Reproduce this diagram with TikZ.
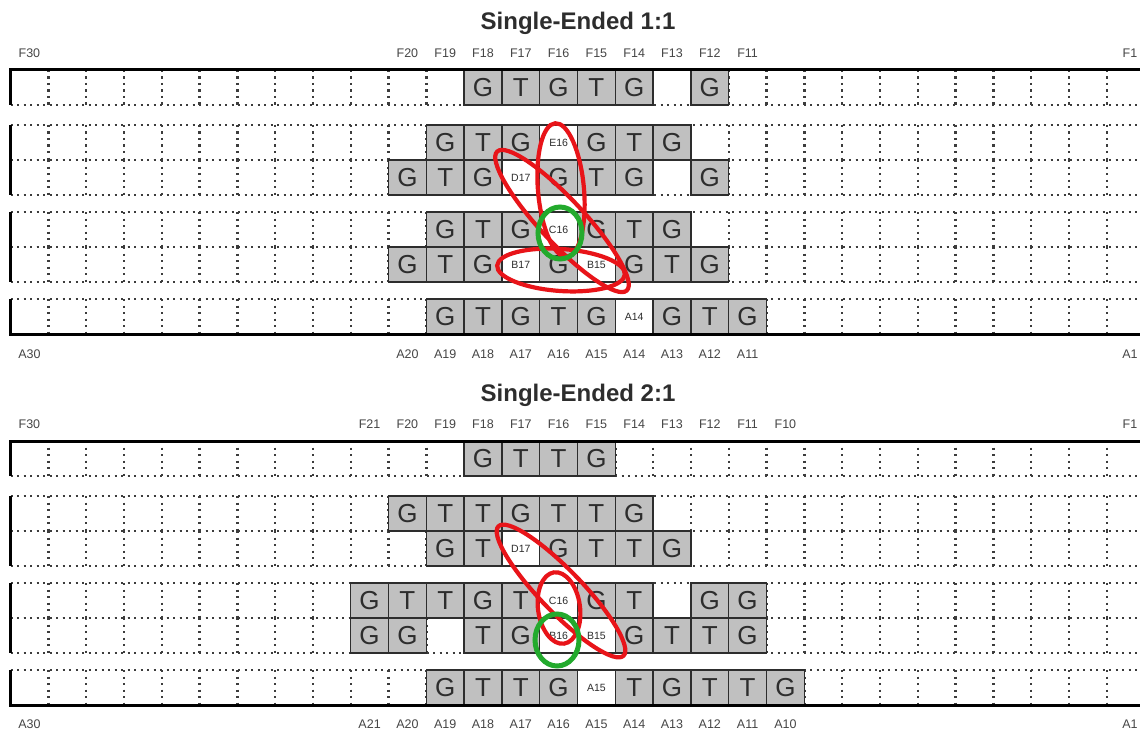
\documentclass[tikz,border=0pt]{standalone}
\usepackage{fontspec}
\setmainfont{Liberation Sans}
\definecolor{cellgray}{RGB}{192,192,192}
\definecolor{ink}{RGB}{45,45,45}
\definecolor{dotcol}{RGB}{60,60,60}
\definecolor{labcol}{RGB}{70,70,70}
\definecolor{ered}{RGB}{232,20,25}
\definecolor{egreen}{RGB}{35,170,45}
\tikzset{
 gcell/.style={draw=ink, line width=1.4pt, fill=cellgray, minimum width=37.8pt, minimum height=35pt, inner sep=0pt, text=ink, font=\fontsize{26}{26}\selectfont},
 wcell/.style={draw=ink, line width=1.4pt, fill=white, minimum width=37.8pt, minimum height=35pt, inner sep=0pt, text=ink, font=\fontsize{10.5}{11}\selectfont},
 dotline/.style={draw=dotcol, line width=2.4pt, dash pattern=on 2.2pt off 4.3pt},
 thickline/.style={draw=black, line width=3pt},
 poslabel/.style={text=labcol, font=\fontsize{12.5}{12.5}\selectfont, inner sep=0pt},
 titlelab/.style={font=\bfseries\fontsize{24}{24}\selectfont, text=ink, inner sep=0pt, anchor=base},
 redring/.style={draw=ered, line width=4.2pt},
 greenring/.style={draw=egreen, line width=5pt},
}
\begin{document}
\begin{tikzpicture}[x=1pt,y=-1pt]
\useasboundingbox (0,0) rectangle (1140,733);
\fill[white] (0,0) rectangle (1140,733);

% dotted grids (both panels)
\foreach \ya/\yb in {70/105,125/160,160/195,212/247,247/282,299/334,441/476,496/531,531/566,583/618,618/653,670/705}{
  \draw[dotline] (10.5,\ya) -- (1140,\ya);
  \draw[dotline] (10.5,\yb) -- (1140,\yb);
  \foreach \j in {1,...,29}{
    \draw[dotline] ({10.5+37.8*\j},\ya) -- ({10.5+37.8*\j},\yb);
  }
}

% ---------------- top panel: Single-Ended 1:1 ----------------
\node[titlelab] (t1) at (578,30) {Single-Ended 1:1};
\node[poslabel] (tf30) at (29.4,53) {F30};
\foreach \k in {20,...,11}{\node[poslabel] (tf\k) at ({1163.4-37.8*\k},53) {F\k};}
\node[poslabel] (tf1) at (1130,53) {F1};
\node[poslabel] (ta30) at (29.4,354) {A30};
\foreach \k in {20,...,11}{\node[poslabel] (ta\k) at ({1163.4-37.8*\k},354) {A\k};}
\node[poslabel] (ta1) at (1130,354) {A1};

\foreach \k/\t in {18/G,17/T,16/G,15/T,14/G,12/G}{\node[gcell] (tF\k) at ({1163.4-37.8*\k},87.5) {\t};}
\foreach \k/\t in {19/G,18/T,17/G,15/G,14/T,13/G}{\node[gcell] (tE\k) at ({1163.4-37.8*\k},142.5) {\t};}
\node[wcell] (tE16) at ({1163.4-37.8*16},142.5) {E16};
\foreach \k/\t in {20/G,19/T,18/G,16/G,15/T,14/G,12/G}{\node[gcell] (tD\k) at ({1163.4-37.8*\k},177.5) {\t};}
\node[wcell] (tD17) at ({1163.4-37.8*17},177.5) {D17};
\foreach \k/\t in {19/G,18/T,17/G,15/G,14/T,13/G}{\node[gcell] (tC\k) at ({1163.4-37.8*\k},229.5) {\t};}
\node[wcell] (tC16) at ({1163.4-37.8*16},229.5) {C16};
\foreach \k/\t in {20/G,19/T,18/G,16/G,14/G,13/T,12/G}{\node[gcell] (tB\k) at ({1163.4-37.8*\k},264.5) {\t};}
\node[wcell] (tB17) at ({1163.4-37.8*17},264.5) {B17};
\node[wcell] (tB15) at ({1163.4-37.8*15},264.5) {B15};
\foreach \k/\t in {19/G,18/T,17/G,16/T,15/G,13/G,12/T,11/G}{\node[gcell] (tA\k) at ({1163.4-37.8*\k},316.5) {\t};}
\node[wcell] (tA14) at ({1163.4-37.8*14},316.5) {A14};

\draw[thickline] (10.5,105) -- (10.5,70) -- (1140,70);
\draw[thickline] (10.5,125) -- (10.5,195);
\draw[thickline] (10.5,212) -- (10.5,282);
\draw[thickline] (10.5,299) -- (10.5,334) -- (1140,334);

\draw[redring, shift={(561,190)}, rotate=5] (0,0) ellipse [x radius=23, y radius=67];
\draw[redring, shift={(562,221)}, rotate=-47] (0,0) ellipse [x radius=95, y radius=22];
\draw[redring, shift={(561,270)}, rotate=-4] (0,0) ellipse [x radius=64, y radius=21];
\draw[greenring] (560,233) ellipse [x radius=22, y radius=26];

% ---------------- bottom panel: Single-Ended 2:1 ----------------
\node[titlelab] (t2) at (578,401) {Single-Ended 2:1};
\node[poslabel] (bf30) at (29.4,424) {F30};
\foreach \k in {21,...,10}{\node[poslabel] (bf\k) at ({1163.4-37.8*\k},424) {F\k};}
\node[poslabel] (bf1) at (1130,424) {F1};
\node[poslabel] (ba30) at (29.4,724) {A30};
\foreach \k in {21,...,10}{\node[poslabel] (ba\k) at ({1163.4-37.8*\k},724) {A\k};}
\node[poslabel] (ba1) at (1130,724) {A1};

\foreach \k/\t in {18/G,17/T,16/T,15/G}{\node[gcell] (bF\k) at ({1163.4-37.8*\k},458.5) {\t};}
\foreach \k/\t in {20/G,19/T,18/T,17/G,16/T,15/T,14/G}{\node[gcell] (bE\k) at ({1163.4-37.8*\k},513.5) {\t};}
\foreach \k/\t in {19/G,18/T,16/G,15/T,14/T,13/G}{\node[gcell] (bD\k) at ({1163.4-37.8*\k},548.5) {\t};}
\node[wcell] (bD17) at ({1163.4-37.8*17},548.5) {D17};
\foreach \k/\t in {21/G,20/T,19/T,18/G,17/T,15/G,14/T,12/G,11/G}{\node[gcell] (bC\k) at ({1163.4-37.8*\k},600.5) {\t};}
\node[wcell] (bC16) at ({1163.4-37.8*16},600.5) {C16};
\foreach \k/\t in {21/G,20/G,18/T,17/G,14/G,13/T,12/T,11/G}{\node[gcell] (bB\k) at ({1163.4-37.8*\k},635.5) {\t};}
\node[wcell] (bB16) at ({1163.4-37.8*16},635.5) {B16};
\node[wcell] (bB15) at ({1163.4-37.8*15},635.5) {B15};
\foreach \k/\t in {19/G,18/T,17/T,16/G,14/T,13/G,12/T,11/T,10/G}{\node[gcell] (bA\k) at ({1163.4-37.8*\k},687.5) {\t};}
\node[wcell] (bA15) at ({1163.4-37.8*15},687.5) {A15};

\draw[thickline] (10.5,476) -- (10.5,441) -- (1140,441);
\draw[thickline] (10.5,496) -- (10.5,566);
\draw[thickline] (10.5,583) -- (10.5,653);
\draw[thickline] (10.5,670) -- (10.5,705) -- (1140,705);

\draw[redring, shift={(561,591)}, rotate=-46] (0,0) ellipse [x radius=90, y radius=21];
\draw[redring, shift={(559,608)}, rotate=8] (0,0) ellipse [x radius=21, y radius=36];
\draw[greenring] (557,640) ellipse [x radius=22, y radius=26];
\end{tikzpicture}
\end{document}
